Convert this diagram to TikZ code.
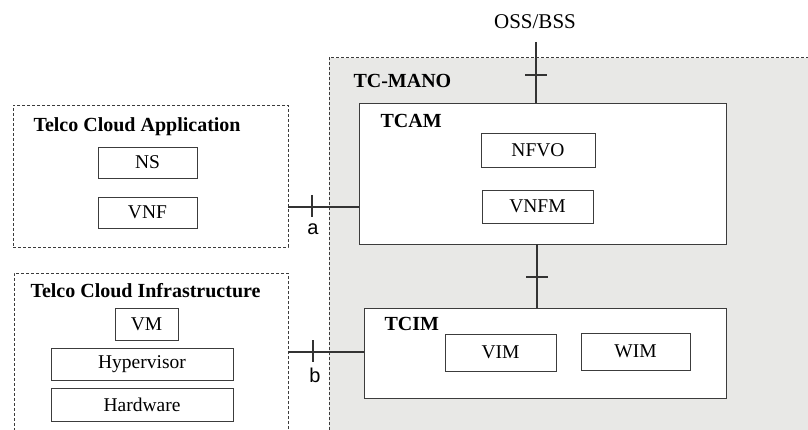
\documentclass[tikz,border=0pt]{standalone}
\usepackage{fontspec}
\setmainfont{Liberation Serif}
\newfontfamily\portfont{Liberation Sans}
\definecolor{manogrey}{RGB}{232,232,230}
\definecolor{boxline}{RGB}{60,60,60}

\begin{document}
\begin{tikzpicture}[x=1pt, y=-1pt,
    block/.style = {rectangle, draw=boxline, fill=white, line width=0.9pt, inner sep=0pt},
    area/.style = {rectangle, draw=boxline, dash pattern=on 3pt off 2pt, line width=0.6pt, inner sep=0pt},
    title/.style = {anchor=base west, font=\fontsize{20}{24}\selectfont\bfseries},
    link/.style = {line width=1.8pt, draw=black!80},
    portname/.style = {anchor=base, font=\fontsize{20}{24}\portfont},
    font=\fontsize{19.5}{23}\selectfont]
  \useasboundingbox (0, 0) rectangle (808, 430);

  % Management region.
  \node at (584.5, 259) [rectangle, fill=manogrey, minimum width=511pt, minimum height=402pt, name=Mano] {};
  \draw [boxline, dash pattern=on 3pt off 2pt, line width=0.6pt] (Mano.south west) |- (Mano.north east);
  \node at (350, 88) [title, name=ManoTitle] {TC-MANO};

  % Application side.
  \node at (150.5, 176) [area, minimum width=275pt, minimum height=142pt, name=App] {};
  \node at (30, 132) [title, name=AppTitle] {Telco Cloud Application};
  \node at (147.5, 162.5) [block, minimum width=99pt, minimum height=31pt, name=NS] {NS};
  \node at (147.5, 212.5) [block, minimum width=99pt, minimum height=31pt, name=VNF] {VNF};

  % Infrastructure side.
  \node at (151, 376.5) [area, minimum width=274pt, minimum height=207pt, name=Infra] {};
  \node at (27, 297) [title, name=InfraTitle] {Telco Cloud Infrastructure};
  \node at (146.5, 324) [block, minimum width=63pt, minimum height=32pt, name=VM] {VM};
  \node at (142, 364) [block, minimum width=182pt, minimum height=32pt, name=Hypervisor] {Hypervisor};
  \node at (142, 404.5) [block, minimum width=182pt, minimum height=33pt, name=Hardware] {Hardware};

  % Managers.
  \node at (542.5, 173.5) [block, minimum width=367pt, minimum height=141pt, name=TCAM] {};
  \node at (377, 128) [title, name=TCAMTitle] {TCAM};
  \node at (538, 150) [block, minimum width=114pt, minimum height=34pt, name=NFVO] {NFVO};
  \node at (537.5, 206.5) [block, minimum width=111pt, minimum height=33pt, name=VNFM] {VNFM};
  \node at (545, 353) [block, minimum width=362pt, minimum height=90pt, name=TCIM] {};
  \node at (381, 330) [title, name=TCIMTitle] {TCIM};
  \node at (500.5, 352.5) [block, minimum width=111pt, minimum height=37pt, name=VIM] {VIM};
  \node at (635.5, 351.5) [block, minimum width=109pt, minimum height=37pt, name=WIM] {WIM};

  % Reference points.
  \node at (535, 29) [anchor=base, font=\fontsize{21}{25}\selectfont, name=OSS] {OSS/BSS};
  \coordinate (ossport) at (536, 42);
  \coordinate (aport) at (288, 207);
  \coordinate (bport) at (288, 352);
  \coordinate (mid) at (537, 0);

  \draw [link] (ossport)
               to (ossport |- TCAM.north);
  \draw [link] (ossport |- TCAM.north) ++(0, -27.5) +(-11, 0) -- +(11, 0);
  \draw [link] (aport)
               to (aport -| TCAM.west);
  \draw [link] (aport) ++(24, 0) +(0, -12) -- +(0, 10);
  \node at (313, 235) [portname, name=a] {a};
  \draw [link] (bport)
               to (bport -| TCIM.west);
  \draw [link] (bport) ++(25, 0) +(0, -12) -- +(0, 10);
  \node at (315, 382) [portname, name=b] {b};
  \draw [link] (mid |- TCAM.south)
               to (mid |- TCIM.north);
  \draw [link] (mid |- TCAM.south) ++(0, 32.5) +(-11, 0) -- +(11, 0);
\end{tikzpicture}
\end{document}
